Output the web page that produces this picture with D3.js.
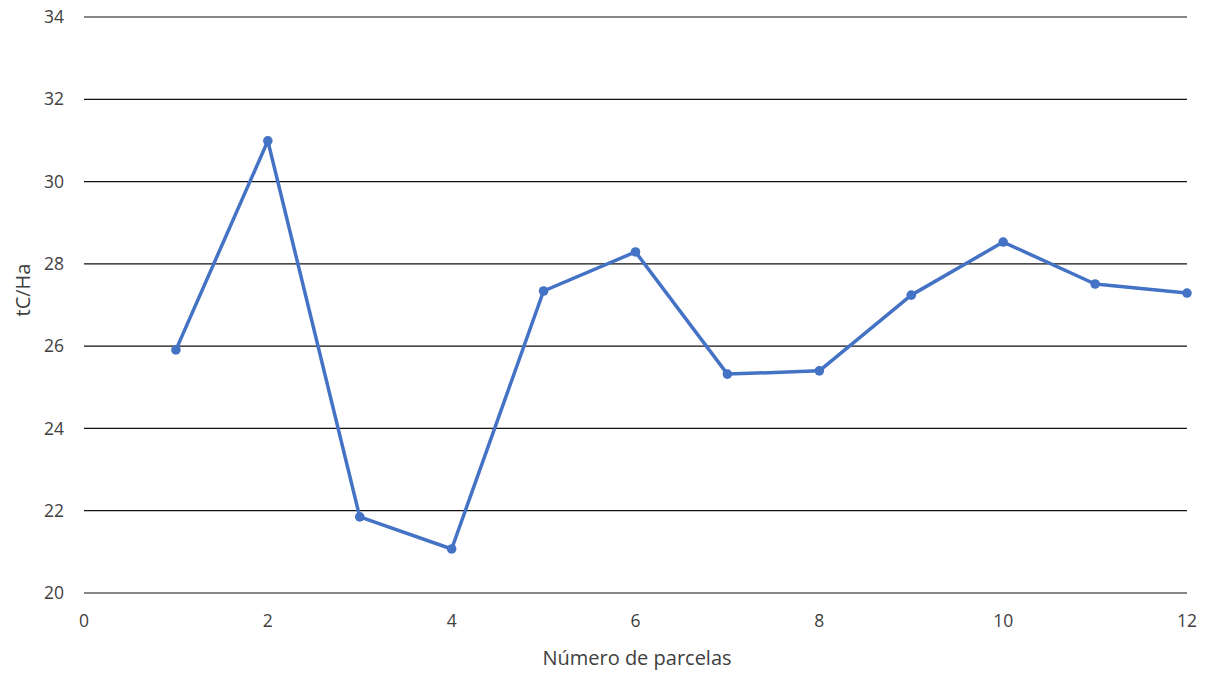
<!DOCTYPE html>
<html><head><meta charset="utf-8">
<script src="https://cdn.jsdelivr.net/npm/d3@7"></script>
<style>body{margin:0;background:#fff;} text{font-family:"Open Sans",sans-serif;}</style>
</head><body>
<svg id="c" width="1205" height="673"></svg>
<script>
const parcelas = [1,2,3,4,5,6,7,8,9,10,11,12];
const tCHa = [25.91,30.99,21.85,21.07,27.34,28.29,25.32,25.40,27.24,28.53,27.51,27.29];
const xTicks = [0,2,4,6,8,10,12];
const yTicks = [20,22,24,26,28,30,32,34];
const xTitle = "Número de parcelas";
const yTitle = "tC/Ha";

const svg = d3.select("#c");
const x = d3.scaleLinear().domain([0,12]).range([84,1187]);
const y = d3.scaleLinear().domain([20,34]).range([593,17]);

svg.append("g").selectAll("line").data(yTicks).join("line")
  .attr("x1",x(0)).attr("x2",x(12))
  .attr("y1",d=>y(d)).attr("y2",d=>y(d))
  .attr("stroke","#111").attr("stroke-width",1.2);

svg.append("g").selectAll("text").data(yTicks).join("text")
  .attr("x",64).attr("y",d=>y(d)).attr("dy","0.35em")
  .attr("text-anchor","end").attr("font-size",17.5).attr("fill","#404040")
  .text(d=>d);

svg.append("g").selectAll("text").data(xTicks).join("text")
  .attr("x",d=>x(d)).attr("y",621).attr("dy","0.35em")
  .attr("text-anchor","middle").attr("font-size",17.5).attr("fill","#404040")
  .text(d=>d);

svg.append("text").attr("x",637).attr("y",658).attr("dy","0.35em")
  .attr("text-anchor","middle").attr("font-size",20).attr("fill","#404040").text(xTitle);
svg.append("text").attr("transform","translate(23,290) rotate(-90)").attr("dy","0.35em")
  .attr("text-anchor","middle").attr("font-size",20).attr("fill","#404040").text(yTitle);

const data = parcelas.map((p,i)=>({p, v:tCHa[i]}));
svg.append("path").datum(data)
  .attr("d", d3.line().x(d=>x(d.p)).y(d=>y(d.v)))
  .attr("fill","none").attr("stroke","#4472C4").attr("stroke-width",3.5)
  .attr("stroke-linejoin","round");
svg.append("g").selectAll("circle").data(data).join("circle")
  .attr("cx",d=>x(d.p)).attr("cy",d=>y(d.v)).attr("r",4.8)
  .attr("fill","#4472C4");
</script>
</body></html>
